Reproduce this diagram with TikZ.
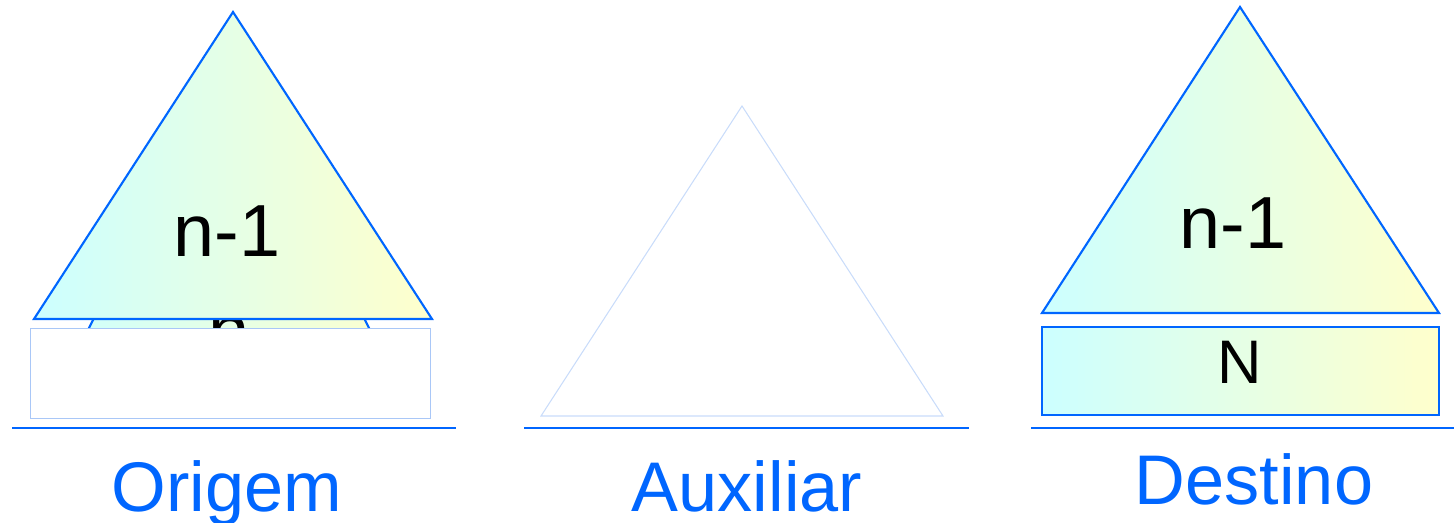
\documentclass[tikz,border=0pt]{standalone}
\usepackage{fontspec}
\setmainfont{Liberation Sans}
\usetikzlibrary{positioning}
\definecolor{hanoiblue}{HTML}{0066FF}
\definecolor{ghostblue}{HTML}{C9DCFA}
\definecolor{rimblue}{HTML}{A9C7F7}

\begin{document}
\begin{tikzpicture}[
                x=0.02cm, y=-0.02cm,
                disk/.style={draw=hanoiblue, line width=1.2pt, left color=cyan!20, right color=yellow!20},
                floor/.style={draw=hanoiblue, line width=1.4pt},
                num/.style={font=\fontsize{42}{42}\selectfont, text=black, inner sep=0pt},
                pegname/.style={font=\fontsize{40}{40}\selectfont, text=hanoiblue, inner sep=0pt, anchor=base}
            ]
                \useasboundingbox (0,0) rectangle (1454,523);

                \draw[disk] (94,318) -- (364,318) -- (412,415) -- (46,415) -- cycle;
                \node[num, anchor=base] (diskn) at (229,357) {n};
                \draw[draw=rimblue, fill=white, line width=0.5pt] (30,328) rectangle (430,418);
                \draw[disk] (233,12) -- (432,319) -- (34,319) -- cycle;
                \node[num] (origtop) at (227,231) {n-1};

                \draw[draw=ghostblue, line width=0.6pt] (742,106) -- (943,416) -- (541,416) -- cycle;

                \draw[disk] (1240,7) -- (1439,313) -- (1042,313) -- cycle;
                \node[num] (desttop) at (1233,223) {n-1};
                \draw[disk] (1042,327) rectangle (1439,415);
                \node[num, font=\fontsize{35}{35}\selectfont] (bigdisk) at (1240,362) {N};

                \draw[floor] (12,428) -- (456,428);
                \draw[floor] (524,428) -- (969,428);
                \draw[floor] (1031,428) -- (1454,428);

                \node[pegname] (origem) at (227,511) {Origem};
                \node[pegname] (auxiliar) at (747,511) {Auxiliar};
                \node[pegname] (destino) at (1254,504) {Destino};
            \end{tikzpicture}
\end{document}
